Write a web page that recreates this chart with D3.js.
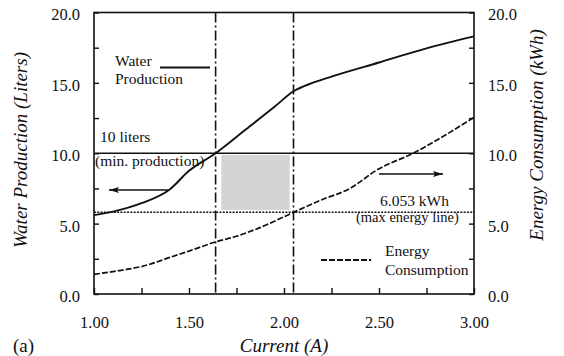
<!DOCTYPE html>
<html>
<head>
<meta charset="utf-8">
<script src="https://cdn.jsdelivr.net/npm/d3@7"></script>
<style>
  body { margin: 0; background: #fff; }
  svg text { font-family: "Liberation Serif", "Times New Roman", serif; fill: #111; }
</style>
</head>
<body>
<svg id="chart" width="564" height="356"></svg>
<script>
// water production (liters) vs current (A)
var waterCurrent = [1.00, 1.10, 1.25, 1.40, 1.50, 1.64, 1.80, 1.95, 2.05, 2.15, 2.25, 2.50, 2.75, 3.00];
var waterLiters  = [5.6, 5.85, 6.45, 7.45, 8.75, 10.0, 11.7, 13.3, 14.4, 15.0, 15.45, 16.45, 17.45, 18.3];

// energy consumption (kWh) vs current (A)
var energyCurrent = [1.00, 1.15, 1.25, 1.40, 1.50, 1.64, 1.75, 1.87, 2.05, 2.20, 2.34, 2.50, 2.68, 2.85, 3.00];
var energyKwh     = [1.4, 1.7, 1.95, 2.6, 3.05, 3.7, 4.1, 4.7, 5.8, 6.7, 7.45, 8.9, 10.0, 11.3, 12.55];

var minProduction = 10;      // liters
var maxEnergyLine = 5.8;     // drawn position of the 6.053 kWh line
var limitCurrents = [1.64, 2.05];
var feasibleBox   = {x0: 1.67, x1: 2.03, y0: 5.97, y1: 9.88};

var xTicks      = [1.00, 1.25, 1.50, 1.75, 2.00, 2.25, 2.50, 2.75, 3.00];
var xTickLabels = [1.00, 1.50, 2.00, 2.50, 3.00];
var yTicks      = [0, 2.5, 5, 7.5, 10, 12.5, 15, 17.5, 20];
var yTickLabels = [0, 5, 10, 15, 20];

var svg = d3.select("#chart");

var mLeft = 94, mRight = 474, mTop = 12.5, mBottom = 294;

var x = d3.scaleLinear().domain([1, 3]).range([mLeft, mRight]);
var y = d3.scaleLinear().domain([0, 20]).range([mBottom, mTop]);

var defs = svg.append("defs");
["arrowL", "arrowR"].forEach(function(id) {
  defs.append("marker")
      .attr("id", id)
      .attr("viewBox", "0 0 10 6")
      .attr("refX", 10).attr("refY", 3)
      .attr("markerWidth", 10).attr("markerHeight", 6)
      .attr("markerUnits", "userSpaceOnUse")
      .attr("orient", "auto")
    .append("path")
      .attr("d", "M0,0L10,3L0,6L2,3Z")
      .attr("fill", "#111");
});

// shaded feasible region
svg.append("rect")
   .attr("x", x(feasibleBox.x0))
   .attr("y", y(feasibleBox.y1))
   .attr("width", x(feasibleBox.x1) - x(feasibleBox.x0))
   .attr("height", y(feasibleBox.y0) - y(feasibleBox.y1))
   .attr("fill", "#d4d4d4");

// axes: all ticks inward, labels only on majors
svg.append("g")
   .attr("transform", "translate(" + mLeft + ",0)")
   .call(d3.axisLeft(y).tickValues(yTicks).tickSize(-5).tickSizeOuter(0).tickFormat(""));
svg.append("g")
   .attr("transform", "translate(" + mRight + ",0)")
   .call(d3.axisRight(y).tickValues(yTicks).tickSize(-5).tickSizeOuter(0).tickFormat(""));
svg.append("g")
   .attr("transform", "translate(0," + mBottom + ")")
   .call(d3.axisBottom(x).tickValues(xTicks).tickSize(-6).tickSizeOuter(0).tickFormat(""));

svg.selectAll("g .domain").remove();
svg.selectAll("g .tick line").attr("stroke", "#111").attr("stroke-width", 1.4);

var leftLab = svg.append("g")
   .attr("transform", "translate(" + mLeft + ",0)")
   .call(d3.axisLeft(y).tickValues(yTickLabels).tickSize(0).tickPadding(14).tickFormat(d3.format(".1f")));
var rightLab = svg.append("g")
   .attr("transform", "translate(" + mRight + ",0)")
   .call(d3.axisRight(y).tickValues(yTickLabels).tickSize(0).tickPadding(14).tickFormat(d3.format(".1f")));
var bottomLab = svg.append("g")
   .attr("transform", "translate(0," + mBottom + ")")
   .call(d3.axisBottom(x).tickValues(xTickLabels).tickSize(0).tickPadding(22).tickFormat(d3.format(".2f")));

[leftLab, rightLab, bottomLab].forEach(function(g) {
  g.select(".domain").remove();
  g.selectAll("text")
   .style("font-family", "'Liberation Serif', 'Times New Roman', serif")
   .style("font-size", "16.5px")
   .attr("fill", "#111");
});
leftLab.selectAll("text").attr("dy", "0.45em");
rightLab.selectAll("text").attr("dy", "0.45em");

// frame
svg.append("rect")
   .attr("x", mLeft).attr("y", mTop)
   .attr("width", mRight - mLeft).attr("height", mBottom - mTop)
   .attr("fill", "none").attr("stroke", "#111").attr("stroke-width", 1.6);

// 10 liters line
svg.append("line")
   .attr("x1", mLeft).attr("x2", mRight)
   .attr("y1", y(minProduction)).attr("y2", y(minProduction))
   .attr("stroke", "#111").attr("stroke-width", 1.5);

// max energy dotted line
svg.append("line")
   .attr("x1", mLeft).attr("x2", mRight)
   .attr("y1", y(maxEnergyLine)).attr("y2", y(maxEnergyLine))
   .attr("stroke", "#111").attr("stroke-width", 1.5)
   .attr("stroke-dasharray", "2,1.3");

// limit current dash-dot lines
svg.selectAll("line.limit")
   .data(limitCurrents)
   .enter()
   .append("line")
   .attr("class", "limit")
   .attr("x1", d => x(d)).attr("x2", d => x(d))
   .attr("y1", mTop).attr("y2", mBottom)
   .attr("stroke", "#111").attr("stroke-width", 1.6)
   .attr("stroke-dasharray", "10,3,2,3");

var line = d3.line()
             .x(d => x(d[0]))
             .y(d => y(d[1]))
             .curve(d3.curveMonotoneX);

svg.append("path")
   .datum(d3.zip(waterCurrent, waterLiters))
   .attr("d", line)
   .attr("fill", "none")
   .attr("stroke", "#111")
   .attr("stroke-width", 1.9);

svg.append("path")
   .datum(d3.zip(energyCurrent, energyKwh))
   .attr("d", line)
   .attr("fill", "none")
   .attr("stroke", "#111")
   .attr("stroke-width", 1.7)
   .attr("stroke-dasharray", "6,2");

// annotations
function label(tx, ty, str, size) {
  svg.append("text")
     .attr("x", tx).attr("y", ty)
     .style("font-size", (size || 15.5) + "px")
     .text(str);
}

label(115, 66, "Water");
label(115, 84, "Production");
svg.append("line")
   .attr("x1", 160).attr("x2", 210).attr("y1", 67.5).attr("y2", 67.5)
   .attr("stroke", "#111").attr("stroke-width", 1.8);

label(100, 142, "10 liters");
label(95, 166, "(min. production)");

svg.append("line")
   .attr("x1", 168).attr("x2", 109).attr("y1", 190).attr("y2", 190)
   .attr("stroke", "#111").attr("stroke-width", 1.4)
   .attr("marker-end", "url(#arrowL)");

svg.append("line")
   .attr("x1", 379).attr("x2", 443).attr("y1", 174).attr("y2", 174)
   .attr("stroke", "#111").attr("stroke-width", 1.4)
   .attr("marker-end", "url(#arrowR)");

label(380, 206, "6.053 kWh");
label(356, 222, "(max energy line)", 14.5);

svg.append("line")
   .attr("x1", 321).attr("x2", 371).attr("y1", 260).attr("y2", 260)
   .attr("stroke", "#111").attr("stroke-width", 1.8)
   .attr("stroke-dasharray", "6,2");
label(385, 256, "Energy");
label(385, 275, "Consumption");

// axis titles
svg.append("text")
   .attr("transform", "translate(27,150) rotate(-90)")
   .attr("text-anchor", "middle")
   .style("font-size", "19px")
   .style("font-style", "italic")
   .text("Water Production (Liters)");

svg.append("text")
   .attr("transform", "translate(543,135) rotate(-90)")
   .attr("text-anchor", "middle")
   .style("font-size", "19px")
   .style("font-style", "italic")
   .text("Energy Consumption (kWh)");

svg.append("text")
   .attr("x", (mLeft + mRight) / 2).attr("y", 352)
   .attr("text-anchor", "middle")
   .style("font-size", "19px")
   .style("font-style", "italic")
   .text("Current (A)");

svg.append("text")
   .attr("x", 13).attr("y", 352)
   .style("font-size", "19px")
   .text("(a)");
</script>
</body>
</html>
